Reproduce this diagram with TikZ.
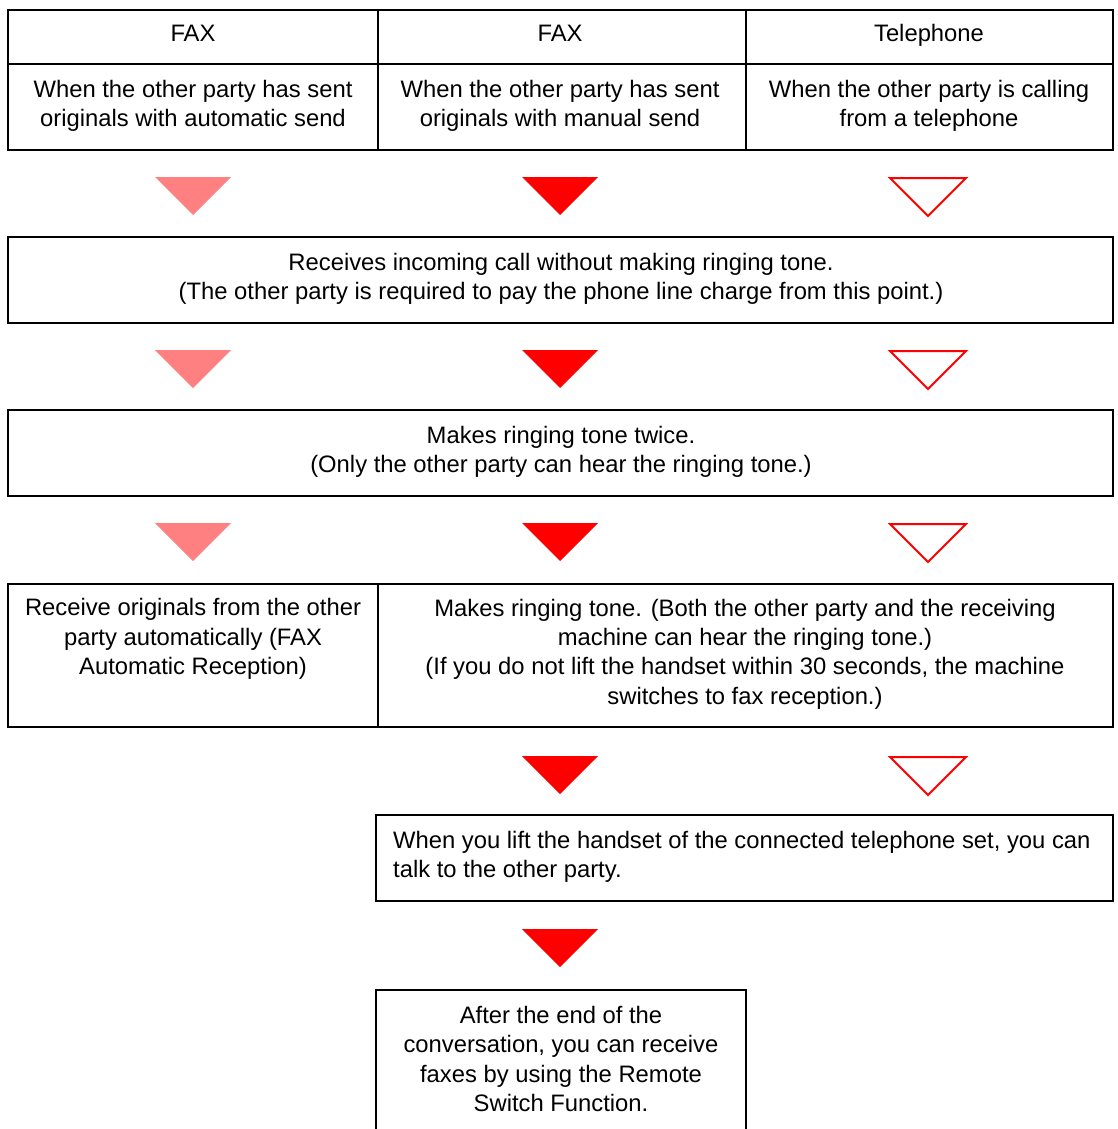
\documentclass[tikz,border=0pt]{standalone}
\usepackage{fontspec}
\setmainfont{Liberation Sans}
\definecolor{pinkred}{HTML}{FF8080}
\definecolor{fullred}{HTML}{FF0000}
\newcommand{\dtri}[3]{%
  \path[#3] (#1-38,#2) -- (#1+38,#2) -- (#1,#2+38) -- cycle;}
\begin{document}
\begin{tikzpicture}[x=1pt,y=-1pt,
  box/.style={draw=black, line width=2.9pt, rectangle, inner sep=0pt, outer sep=0pt, anchor=north west},
  txt/.style={font=\fontsize{23.8}{29.3}\selectfont, align=center, inner sep=0pt},
  htxt/.style={txt, anchor=base},
  ltxt/.style={font=\fontsize{23.8}{29.3}\selectfont, align=left, inner sep=0pt, anchor=west},
  tripink/.style={fill=pinkred},
  trired/.style={fill=fullred},
  triopen/.style={draw=fullred, line width=2pt, fill=white, line join=miter}]
\useasboundingbox (0,0) rectangle (1117,1129);
\clip (0,0) rectangle (1117,1129);
% header table
\node[box, minimum width=370pt, minimum height=54pt] (h1) at (8,10) {};
\node[box, minimum width=368pt, minimum height=54pt] (h2) at (378,10) {};
\node[box, minimum width=367pt, minimum height=54pt] (h3) at (746,10) {};
\node[box, minimum width=370pt, minimum height=86pt] (d1) at (8,64) {};
\node[box, minimum width=368pt, minimum height=86pt] (d2) at (378,64) {};
\node[box, minimum width=367pt, minimum height=86pt] (d3) at (746,64) {};
\node[htxt] (th1) at (193,41.5) {FAX};
\node[htxt] (th2) at (560,41.5) {FAX};
\node[htxt] (th3) at (929,41.5) {Telephone};
\node[txt] (td1) at (193,106) {When the other party has sent\\originals with automatic send};
\node[txt] (td2) at (560,106) {When the other party has sent\\originals with manual send};
\node[txt] (td3) at (929,106) {When the other party is calling\\from a telephone};
% step boxes
\node[box, minimum width=1105pt, minimum height=86pt] (b2) at (8,237) {};
\node[txt] (tb2) at (561,279) {Receives incoming call without making ringing tone.\\(The other party is required to pay the phone line charge from this point.)};
\node[box, minimum width=1105pt, minimum height=86pt] (b3) at (8,410) {};
\node[txt] (tb3) at (561,452) {Makes ringing tone twice.\\(Only the other party can hear the ringing tone.)};
\node[box, minimum width=370pt, minimum height=143pt] (b4l) at (8,584) {};
\node[box, minimum width=735pt, minimum height=143pt] (b4r) at (378,584) {};
\node[txt] (tb4l) at (193,639) {Receive originals from the other\\party automatically (FAX\\Automatic Reception)};
\node[txt] (tb4r) at (745,654) {Makes ringing tone. (Both the other party and the receiving\\machine can hear the ringing tone.)\\(If you do not lift the handset within 30 seconds, the machine\\switches to fax reception.)};
\node[box, minimum width=737pt, minimum height=86pt] (b5) at (376,815) {};
\node[ltxt] (tb5) at (393,857) {When you lift the handset of the connected telephone set, you can\\talk to the other party.};
\node[box, minimum width=370pt, minimum height=180pt] (b6) at (376,990) {};
\node[txt] (tb6) at (561,1059) {After the end of the\\conversation, you can receive\\faxes by using the Remote\\Switch Function.};
% triangles
\dtri{193}{177}{tripink}\dtri{560}{177}{trired}\dtri{928}{178}{triopen}
\dtri{193}{350}{tripink}\dtri{560}{350}{trired}\dtri{928}{351}{triopen}
\dtri{193}{523}{tripink}\dtri{560}{523}{trired}\dtri{928}{524}{triopen}
\dtri{560}{756}{trired}\dtri{928}{757}{triopen}
\dtri{560}{929}{trired}
\end{tikzpicture}
\end{document}
